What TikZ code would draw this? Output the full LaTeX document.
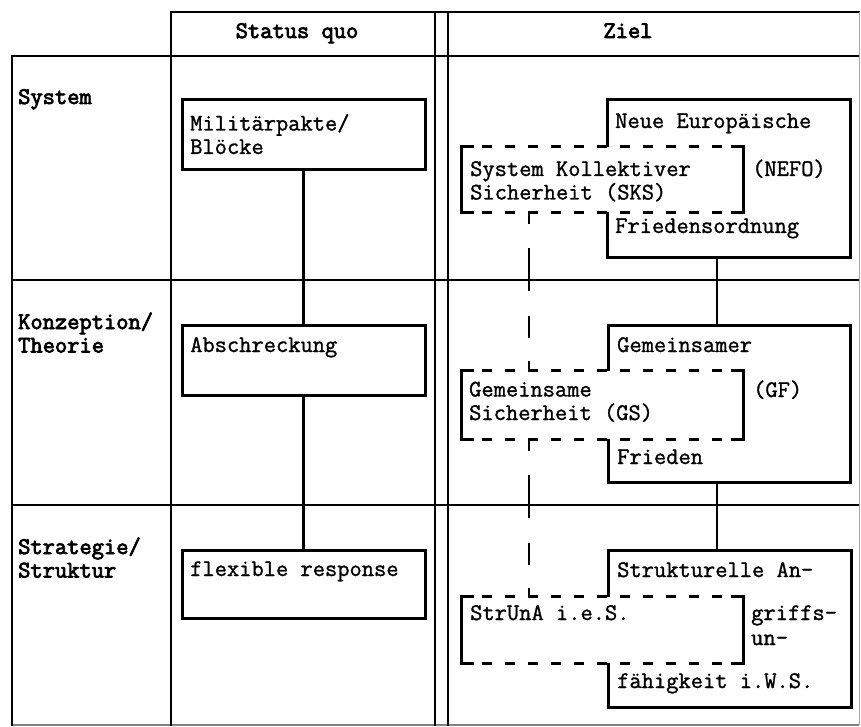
\documentclass[tikz,border=0pt]{standalone}
\usepackage{fontspec}
\newfontfamily\courfont[FakeBold=1.2]{Latin Modern Mono}
\newfontfamily\courbfont[FakeBold=3.2]{Latin Modern Mono}
\begin{document}
\begin{tikzpicture}[x=1pt,y=-1pt,
  grid/.style={line width=2.8pt, line cap=rect},
  txt/.style={font=\courfont\fontsize{23.8}{23.5}\selectfont, anchor=base west, inner sep=0pt, align=left},
  btxt/.style={font=\courbfont\fontsize{23.8}{23.5}\selectfont, anchor=base west, inner sep=0pt, align=left},
  sqbox/.style={draw, line width=3pt, minimum width=243pt, inner sep=0pt},
  zbox/.style={minimum width=242pt, minimum height=157pt, inner sep=0pt},
  dbox/.style={fill=white, minimum width=281pt, inner sep=0pt},
  link/.style={line width=2.8pt},
  dedge/.style={line width=2.8pt, dash pattern=on 10pt off 13pt},
  dlink/.style={line width=2.6pt, dash pattern=on 12pt off 24pt on 43pt off 25pt on 22pt off 23pt on 12pt}]
\useasboundingbox (0,0) rectangle (861,727);

% grid
\draw[grid] (171,12) -- (859,12);
\draw[grid] (12,56) -- (859,56);
\draw[grid] (12,280) -- (859,280);
\draw[grid] (12,505) -- (859,505);
\draw[line width=1.8pt, gray] (12,725) -- (859,725);
\draw[grid] (12,56) -- (12,725);
\draw[grid] (171,12) -- (171,725);
\draw[grid] (435,12) -- (435,725);
\draw[grid] (448,12) -- (448,725);
\draw[line width=0.8pt, gray!70] (859,12) -- (859,725);

% headers and row labels
\node[btxt, anchor=base] (hsq) at (297,38) {Status quo};
\node[btxt, anchor=base] (hz) at (628,38) {Ziel};
\node[btxt] (lsys) at (18,104) {System};
\node[btxt] (lkon) at (18,352.5) {Konzeption/\\Theorie};
\node[btxt] (lstr) at (18,577.5) {Strategie/\\Struktur};

% status quo column
\node[sqbox, minimum height=70pt] (mil) at (303.5,135) {};
\node[sqbox, minimum height=70pt] (abs) at (303.5,360) {};
\node[sqbox, minimum height=68pt] (flex) at (303.5,584) {};
\draw[link] (mil.south) -- (abs.north);
\draw[link] (abs.south) -- (flex.north);
\node[txt] (tmil) at (190,154) {Militärpakte/\\Blöcke};
\node[txt] (tabs) at (190,352) {Abschreckung};
\node[txt] (tflex) at (190,576) {flexible response};

% Ziel column: solid boxes
\node[zbox] (nefo) at (729,178.5) {};
\node[zbox] (gf) at (729.5,404) {};
\node[zbox] (stra) at (730,629) {};
\foreach \b in {nefo,gf,stra}
  \draw[link] (\b.north west) -- (\b.north east) -- (\b.south east) -- (\b.south west) -- cycle;
\draw[link] ([xshift=-12pt]nefo.south) -- ([xshift=-12.5pt]gf.north);
\draw[link] ([xshift=-12.5pt]gf.south) -- ([xshift=-13pt]stra.north);

% Ziel column: dashed boxes
\node[dbox, minimum height=65pt] (sks) at (602.5,179.5) {};
\node[dbox, minimum height=68pt] (gs) at (602.5,405) {};
\node[dbox, minimum height=66pt] (sua) at (602.5,630) {};
\foreach \b in {sks,gs,sua} {
  \draw[link] ([xshift=12pt]\b.north west) -- (\b.north west) -- (\b.south west) -- ([xshift=12pt]\b.south west);
  \draw[link] ([xshift=-12pt]\b.north east) -- (\b.north east) -- (\b.south east) -- ([xshift=-12pt]\b.south east);
  \draw[dedge] ([xshift=20pt]\b.north west) -- ([xshift=-12pt]\b.north east);
  \draw[dedge] ([xshift=20pt]\b.south west) -- ([xshift=-12pt]\b.south east);
}
\draw[dlink] ([xshift=-73.5pt]sks.south) -- ([xshift=-73.5pt]gs.north);
\draw[dlink] ([xshift=-73.5pt]gs.south) -- ([xshift=-73.5pt]sua.north);

% Ziel texts
\node[txt] (tnefo1) at (615,128) {Neue Europäische};
\node[txt] (tsks) at (470,199.5) {System Kollektiver\\Sicherheit (SKS)};
\node[txt] (tnefo2) at (752,176) {(NEFO)};
\node[txt] (tnefo3) at (615,233) {Friedensordnung};
\node[txt] (tgf1) at (617,352) {Gemeinsamer};
\node[txt] (tgs) at (469,420) {Gemeinsame\\Sicherheit (GS)};
\node[txt] (tgf2) at (753,397) {(GF)};
\node[txt] (tgf3) at (617,464) {Frieden};
\node[txt] (tsa1) at (617,577) {Strukturelle An-};
\node[txt] (tsu) at (470,620) {StrUnA i.e.S.};
\node[txt, font=\courfont\fontsize{23.8}{25}\selectfont] (tsa2) at (751,645) {griffs-\\un-};
\node[txt] (tsa4) at (617,688) {fähigkeit i.W.S.};
\end{tikzpicture}
\end{document}
